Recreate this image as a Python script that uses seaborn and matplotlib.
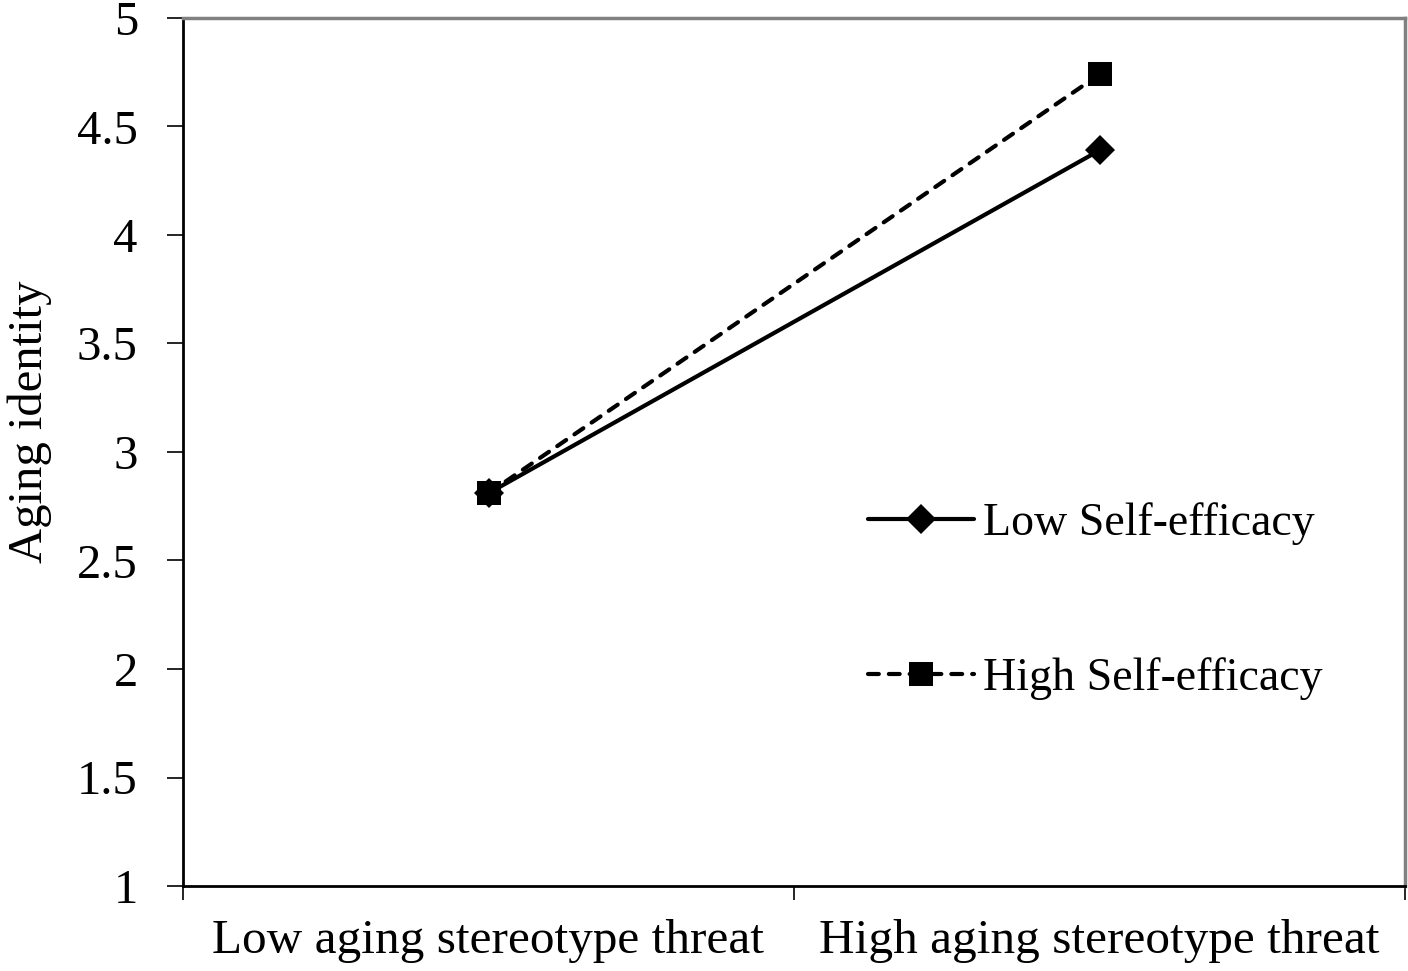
import matplotlib
matplotlib.use("Agg")
import matplotlib.pyplot as plt
import seaborn as sns
import pandas as pd
import numpy as np
from matplotlib.ticker import FixedLocator, NullFormatter, FixedFormatter

categories = ["Low aging stereotype threat", "High aging stereotype threat"]
groups = ["Low Self-efficacy", "High Self-efficacy"]
low_se = [2.81, 4.39]
high_se = [2.81, 4.74]
yticks = [1, 1.5, 2, 2.5, 3, 3.5, 4, 4.5, 5]
ytick_labels = ["1", "1.5", "2", "2.5", "3", "3.5", "4", "4.5", "5"]

sns.set_theme(style="white")
plt.rcParams["font.family"] = ["Liberation Serif", "DejaVu Serif"]
plt.rcParams["text.color"] = "black"
plt.rcParams["xtick.color"] = "black"
plt.rcParams["ytick.color"] = "black"
plt.rcParams["axes.labelcolor"] = "black"

rows = []
for g, vals in zip(groups, [low_se, high_se]):
    for i, v in enumerate(vals):
        rows.append({"pos": i + 0.5, "value": v, "group": g})
df = pd.DataFrame(rows)

fig = plt.figure(figsize=(14.08, 9.71), dpi=100)
ax = fig.add_axes([183/1408, 1 - 886/971, (1405-183)/1408, (886-18)/971])

sns.lineplot(data=df, x="pos", y="value", hue="group", style="group",
             hue_order=groups, style_order=groups,
             palette={groups[0]: "black", groups[1]: "black"},
             markers={groups[0]: "D", groups[1]: "s"},
             dashes={groups[0]: "", groups[1]: (2.6, 2.4)},
             linewidth=3.0, markersize=15, markeredgewidth=0,
             ax=ax, legend=True)
for ln in ax.lines:
    ln.set_dash_capstyle("round")
    ln.set_solid_capstyle("round")
    if ln.get_marker() == "s":
        ln.set_markersize(17)

ax.set_xlim(0, 2)
ax.set_ylim(1, 5)
ax.xaxis.set_major_locator(FixedLocator([0, 1, 2]))
ax.xaxis.set_major_formatter(NullFormatter())
ax.xaxis.set_minor_locator(FixedLocator([0.5, 1.5]))
ax.xaxis.set_minor_formatter(FixedFormatter(categories))
ax.tick_params(axis="x", which="major", direction="out", length=10, width=1.2,
               color="black", bottom=True)
ax.tick_params(axis="x", which="minor", length=0, labelsize=35.5, pad=24)
ax.set_yticks(yticks)
ax.set_yticklabels(ytick_labels)
ax.tick_params(axis="y", direction="out", length=11.5, width=1.2, color="black",
               labelsize=35, pad=21, left=True)
ax.set_xlabel("")
ax.set_ylabel("Aging identity", fontsize=35)
ax.yaxis.set_label_coords(-0.107, 0.535)

for s in ["left", "bottom"]:
    ax.spines[s].set_color("black")
    ax.spines[s].set_linewidth(2.0)
for s in ["top", "right"]:
    ax.spines[s].set_color("#808080")
    ax.spines[s].set_linewidth(2.5)

leg = ax.legend(loc="upper left", bbox_to_anchor=(0.527, 0.49), frameon=False,
                fontsize=33, handlelength=2.3, labelspacing=2.45,
                handletextpad=0.2)
for h in leg.legend_handles:
    h.set_color("black")

fig.savefig("out.png", dpi=100, facecolor="white")
